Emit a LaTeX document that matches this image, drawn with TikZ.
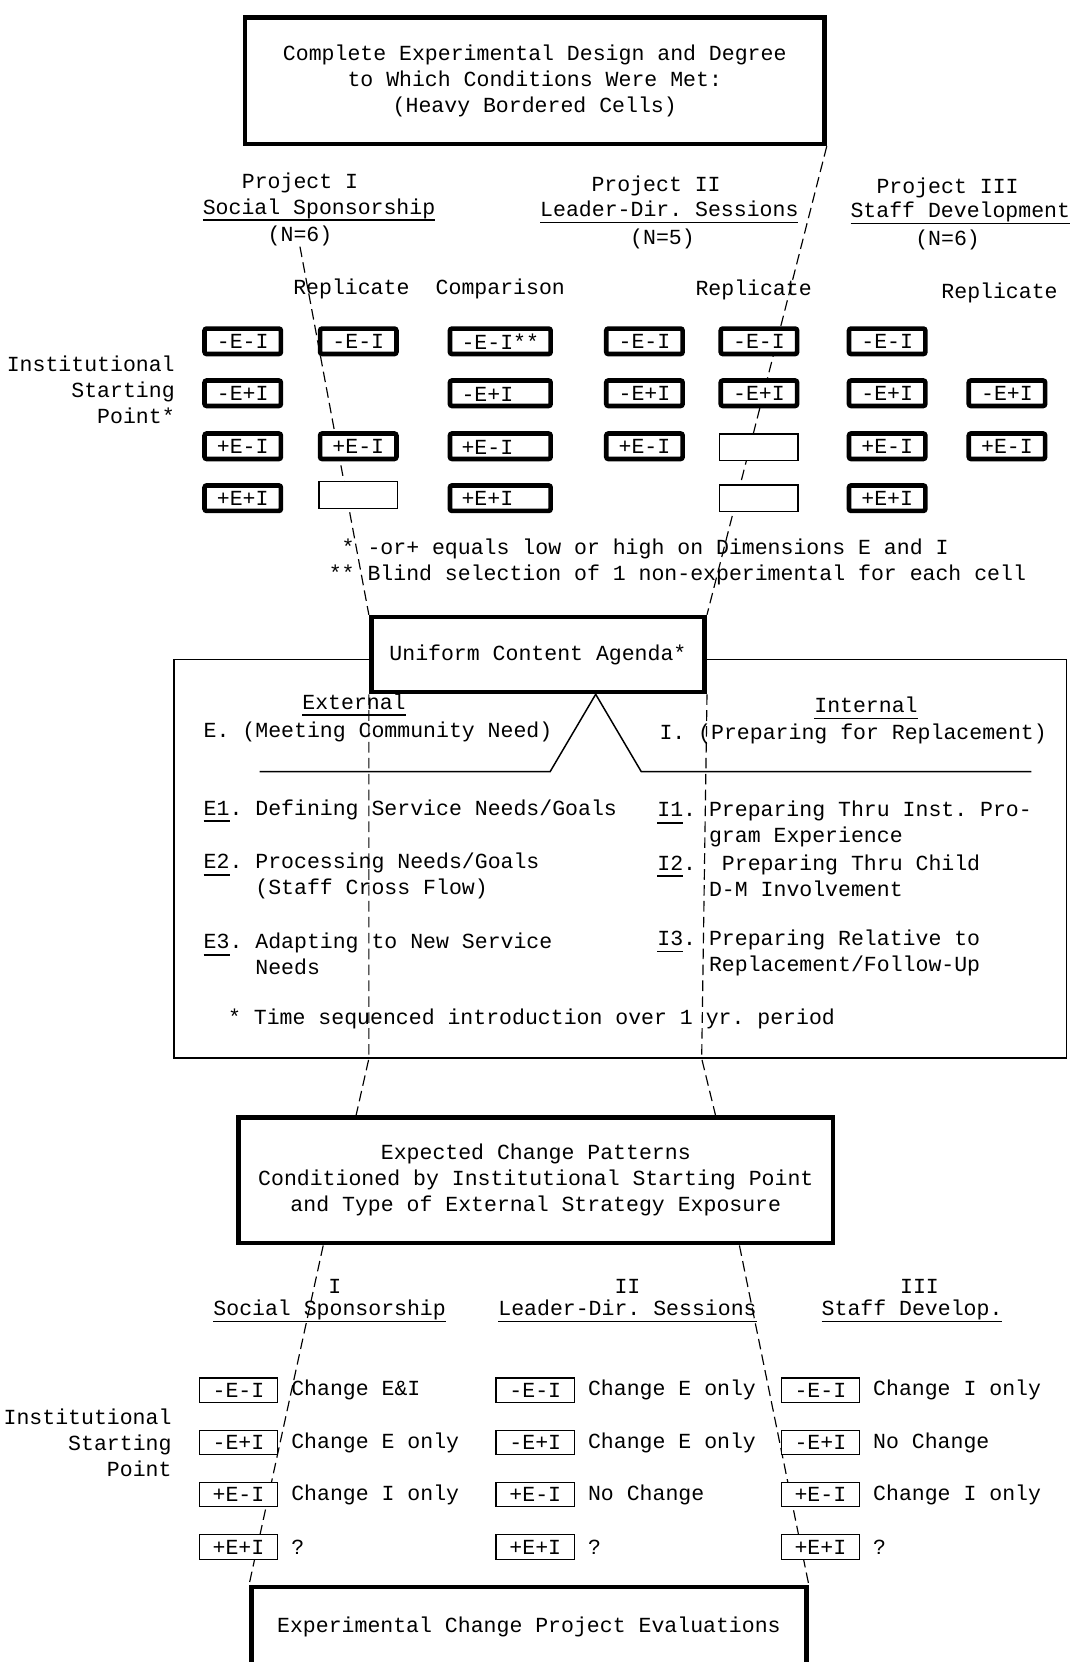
\documentclass[tikz,border=0pt]{standalone}
\usepackage{fontspec}
\setmainfont{Liberation Mono}
\usetikzlibrary{positioning,calc,backgrounds}
\newcommand{\typeul}[1]{\sbox0{#1}\rlap{\rule[-6.5pt]{\wd0}{1.6pt}}\usebox0}

\begin{document}
\begin{tikzpicture}[x=1pt,y=-1pt,
    font=\fontsize{20.3}{24.5}\selectfont\frenchspacing,
    txt/.style={inner sep=0pt},
    bigbox/.style={draw, line width=4.4pt, fill=white, align=center},
    heavycell/.style={draw, line width=4.4pt, rounded corners=2pt, fill=white, inner sep=0pt, minimum width=72pt, minimum height=24pt},
    emptycell/.style={draw, line width=1.3pt, fill=white, inner sep=0pt, minimum width=74pt, minimum height=25pt},
    patterncell/.style={draw, line width=1.2pt, fill=white, inner sep=0pt, minimum width=74pt, minimum height=23pt},
    pencil/.style={line width=1.1pt, dash pattern=on 10pt off 5pt}]
  \path[use as bounding box] (0,0) rectangle (1012,1568);

  % design and project headings
  \node[bigbox, minimum width=546.6pt, minimum height=119.6pt] (design) at (504.5,76)
    {Complete Experimental Design and Degree\\to Which Conditions Were Met:\\(Heavy Bordered Cells)};
  \node[txt] (pI) at (283,173) {Project I};
  \node[txt] (sI) at (301,198) {\typeul{Social Sponsorship}};
  \node[txt] (nI) at (283,223) {(N=6)};
  \node[txt] (pII) at (619,175) {Project II};
  \node[txt] (sII) at (631.5,200) {\typeul{Leader-Dir. Sessions}};
  \node[txt] (nII) at (625,225) {(N=5)};
  \node[txt] (pIII) at (894,177) {Project III};
  \node[txt] (sIII) at (906,201) {\typeul{Staff Development}};
  \node[txt] (nIII) at (894,226) {(N=6)};
  \node[txt] (repI) at (331.5,273) {Replicate};
  \node[txt] (comp) at (472,273) {Comparison};
  \node[txt] (repII) at (711,274) {Replicate};
  \node[txt] (repIII) at (943,276) {Replicate};
  \node[txt, align=right, anchor=east] (start) at (165,368) {Institutional\\Starting\\Point*};

  % cells
  \node[heavycell] (A1) at (229,322) {-E-I};
  \node[heavycell] (A2) at (229,371) {-E+I};
  \node[heavycell] (A3) at (229,421) {+E-I};
  \node[heavycell] (A4) at (229,470) {+E+I};
  \node[heavycell] (B1) at (338,322) {-E-I};
  \node[heavycell] (B3) at (338,421) {+E-I};
  \node[emptycell] (B4) at (338,467) {};
  \node[heavycell, minimum width=95pt] (C1) at (472,322) {-E-I**};
  \node[heavycell, minimum width=95pt] (C2) at (472,371) {-E+I\phantom{**}};
  \node[heavycell, minimum width=95pt] (C3) at (472,421) {+E-I\phantom{**}};
  \node[heavycell, minimum width=95pt] (C4) at (472,470) {+E+I\phantom{**}};
  \node[heavycell] (D1) at (608,322) {-E-I};
  \node[heavycell] (D2) at (608,371) {-E+I};
  \node[heavycell] (D3) at (608,421) {+E-I};
  \node[heavycell] (E1) at (716,322) {-E-I};
  \node[heavycell] (E2) at (716,371) {-E+I};
  \node[emptycell] (E3) at (716,422) {};
  \node[emptycell] (E4) at (716,470) {};
  \node[heavycell] (F1) at (837,322) {-E-I};
  \node[heavycell] (F2) at (837,371) {-E+I};
  \node[heavycell] (F3) at (837,421) {+E-I};
  \node[heavycell] (F4) at (837,470) {+E+I};
  \node[heavycell] (G2) at (950,371) {-E+I};
  \node[heavycell] (G3) at (950,421) {+E-I};
  \node[txt, anchor=west, align=left] (notes) at (310,530.5)
    {\phantom{*}* -or+ equals low or high on Dimensions E and I\\** Blind selection of 1 non-experimental for each cell};

  % content agenda
  \node[draw, line width=1.4pt, minimum width=842pt, minimum height=376pt] (topics) at (585,810) {};
  \node[bigbox, minimum width=314.6pt, minimum height=70.6pt] (agenda) at (507.5,617.5) {Uniform Content Agenda*};
  \draw[line width=1.4pt] (245,728) -- (519,728) -- ([xshift=54.5pt]agenda.south) -- (605,728) -- (973,728);
  \node[txt] (ext) at (334,665) {\typeul{External}};
  \node[txt] (int) at (817,668) {\typeul{Internal}};
  \node[txt, anchor=west] (eE) at (192,691) {E. (Meeting Community Need)};
  \node[txt, anchor=west] (iI) at (622,692) {I. (Preparing for Replacement)};
  \node[txt, anchor=west] (e1) at (192,765) {\typeul{E1}. Defining Service Needs/Goals};
  \node[txt, anchor=west, align=left] (e2) at (192,826.5) {\typeul{E2}. Processing Needs/Goals\\\phantom{E2.~}(Staff Cross Flow)};
  \node[txt, anchor=west, align=left] (e3) at (192,900) {\typeul{E3}. Adapting to New Service\\\phantom{E3.~}Needs};
  \node[txt, anchor=west, align=left] (i1) at (620,777.5) {\typeul{I1}. Preparing Thru Inst. Pro-\\\phantom{I1.~}gram Experience};
  \node[txt, anchor=west, align=left] (i2) at (620,826) {\typeul{I2}.~~Preparing Thru Child\\\phantom{I2.~}D-M Involvement};
  \node[txt, anchor=west, align=left] (i3) at (620,899) {\typeul{I3}. Preparing Relative to\\\phantom{I3.~}Replacement/Follow-Up};
  \node[txt, anchor=west] (timing) at (215,961) {* Time sequenced introduction over 1 yr. period};

  % expected change patterns
  \node[bigbox, minimum width=560.6pt, minimum height=118.6pt] (patterns) at (505.5,1113.5)
    {Expected Change Patterns\\Conditioned by Institutional Starting Point\\and Type of External Strategy Exposure};
  \node[txt] (hI) at (316,1213.5) {I};
  \node[txt] (tI) at (311,1237) {\typeul{Social Sponsorship}};
  \node[txt] (hII) at (592,1213.5) {II};
  \node[txt] (tII) at (592,1237) {\typeul{Leader-Dir. Sessions}};
  \node[txt] (hIII) at (867.5,1213.5) {III};
  \node[txt] (tIII) at (860.5,1237) {\typeul{Staff Develop.}};
  \node[txt, align=right, anchor=east] (startb) at (162,1361) {Institutional\\Starting\\Point};

  \node[patterncell] (P1) at (225,1311.5) {-E-I};
  \node[patterncell] (P2) at (225,1361) {-E+I};
  \node[patterncell] (P3) at (225,1410) {+E-I};
  \node[patterncell] (P4) at (225,1459.5) {+E+I};
  \node[txt, right=12pt of P1] (lP1) {Change E\&I};
  \node[txt, right=12pt of P2] (lP2) {Change E only};
  \node[txt, right=12pt of P3] (lP3) {Change I only};
  \node[txt, right=12pt of P4] (lP4) {?};
  \node[patterncell] (Q1) at (505,1311.5) {-E-I};
  \node[patterncell] (Q2) at (505,1361) {-E+I};
  \node[patterncell] (Q3) at (505,1410) {+E-I};
  \node[patterncell] (Q4) at (505,1459.5) {+E+I};
  \node[txt, right=12pt of Q1] (lQ1) {Change E only};
  \node[txt, right=12pt of Q2] (lQ2) {Change E only};
  \node[txt, right=12pt of Q3] (lQ3) {No Change};
  \node[txt, right=12pt of Q4] (lQ4) {?};
  \node[patterncell] (R1) at (774,1311.5) {-E-I};
  \node[patterncell] (R2) at (774,1361) {-E+I};
  \node[patterncell] (R3) at (774,1410) {+E-I};
  \node[patterncell] (R4) at (774,1459.5) {+E+I};
  \node[txt, right=12pt of R1] (lR1) {Change I only};
  \node[txt, right=12pt of R2] (lR2) {No Change};
  \node[txt, right=12pt of R3] (lR3) {Change I only};
  \node[txt, right=12pt of R4] (lR4) {?};

  \node[bigbox, minimum width=523.6pt, minimum height=76pt] (evaluation) at (499,1535.2)
    {Experimental Change Project Evaluations};

  % pencilled links
  \begin{scope}[on background layer]
    \draw[pencil] (design.south east) -- (agenda.north east);
    \draw[pencil] (nI.south) -- (agenda.north west);
    \draw[pencil] (agenda.south west) -- (agenda.south west |- topics.south)
      -- ($(patterns.north west)!0.2!(patterns.north east)$);
    \draw[pencil] (agenda.south east) -- ([xshift=-5pt]agenda.south east |- topics.south)
      -- ($(patterns.north west)!0.8!(patterns.north east)$);
    \draw[pencil] ($(patterns.south west)!0.145!(patterns.south east)$) -- (evaluation.north west);
    \draw[pencil] ($(patterns.south west)!0.84!(patterns.south east)$) -- (evaluation.north east);
  \end{scope}
\end{tikzpicture}
\end{document}
